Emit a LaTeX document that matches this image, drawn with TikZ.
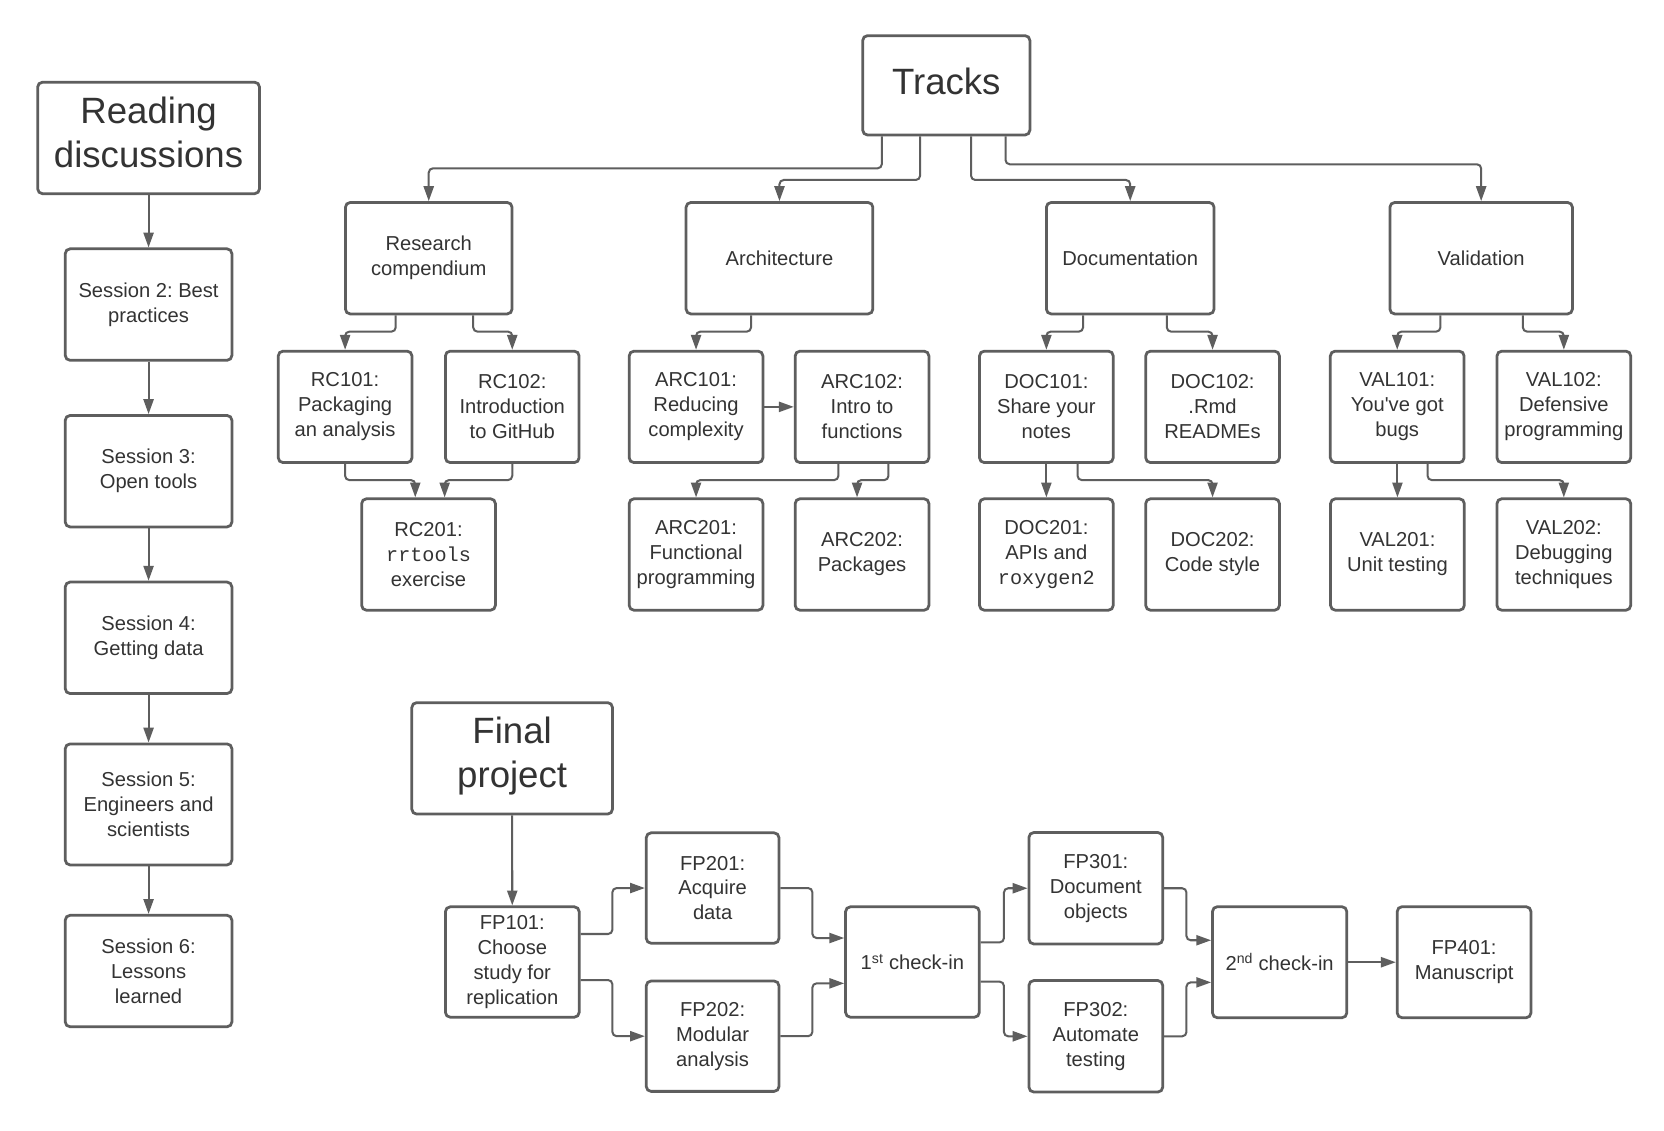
\documentclass[tikz,border=0pt]{standalone}
\usepackage{fontspec}
\setmainfont{Liberation Sans}[Ligatures=TeXOff]
\setmonofont{Liberation Mono}
\usetikzlibrary{arrows.meta}
\definecolor{lc}{HTML}{5E5E5E}
\definecolor{tc}{HTML}{333333}
\frenchspacing
\begin{document}
\begin{tikzpicture}[x=1pt,y=-1pt,
  box/.style={draw=lc, line width=2.6pt, rounded corners=4.5pt, fill=white, align=center, text=tc, inner sep=0pt, font=\fontsize{19}{23.5}\selectfont},
  bigbox/.style={box, font=\fontsize{34.5}{41.5}\selectfont},
  conn/.style={draw=lc, line width=1.9pt, rounded corners=4pt, -{Triangle[length=14pt,width=9.5pt]}},
  sz/.style 2 args={minimum width=#1pt, minimum height=#2pt}
]
\useasboundingbox (0,0) rectangle (1568,1065);
\fill[white] (0,0) rectangle (1568,1065);

% Reading discussions column
\node[bigbox, sz={209}{105}, text depth=10pt] (reading) at (140,130) {Reading\\discussions};
\node[box, sz={157}{105}] (s2) at (140,287) {Session 2: Best\\practices};
\node[box, sz={157}{105}] (s3) at (140,444) {Session 3:\\Open tools};
\node[box, sz={157}{105}] (s4) at (140,601) {Session 4:\\Getting data};
\node[box, sz={157}{114}] (s5) at (140,758) {Session 5:\\Engineers and\\scientists};
\node[box, sz={157}{105}] (s6) at (140,915) {Session 6:\\Lessons\\learned};

\draw[conn] (reading) -- (s2);
\draw[conn] (s2) -- (s3);
\draw[conn] (s3) -- (s4);
\draw[conn] (s4) -- (s5);
\draw[conn] (s5) -- (s6);

% Tracks
\node[bigbox, sz={157.5}{93.6}, text depth=8pt] (tracks) at (891.7,80.4) {Tracks};
\node[box, sz={157}{105}] (research) at (404,243.3) {Research\\compendium};
\node[box, sz={176}{105}] (arch) at (734.5,243.3) {Architecture};
\node[box, sz={158}{105}] (doc) at (1065,243.3) {Documentation};
\node[box, sz={172}{105}] (val) at (1395.7,243.3) {Validation};

\node[box, sz={126}{105}] (rc101) at (325.2,383.4) {RC101:\\Packaging\\an analysis};
\node[box, sz={126}{105}] (rc102) at (482.7,383.4) {RC102:\\Introduction\\to GitHub};
\node[box, sz={126}{105}] (arc101) at (655.9,383.4) {ARC101:\\Reducing\\complexity};
\node[box, sz={126}{105}] (arc102) at (812.3,383.4) {ARC102:\\Intro to\\functions};
\node[box, sz={126}{105}] (doc101) at (986,383.4) {DOC101:\\Share your\\notes};
\node[box, sz={126}{105}] (doc102) at (1142.6,383.4) {DOC102:\\.Rmd\\READMEs};
\node[box, sz={126}{105}] (val101) at (1316.6,383.4) {VAL101:\\You've got\\bugs};
\node[box, sz={126}{105}] (val102) at (1473.6,383.4) {VAL102:\\Defensive\\programming};

\node[box, sz={126}{105}] (rc201) at (403.8,522.5) {RC201:\\\texttt{rrtools}\\exercise};
\node[box, sz={126}{105}] (arc201) at (655.9,522.5) {ARC201:\\Functional\\programming};
\node[box, sz={126}{105}] (arc202) at (812.3,522.5) {ARC202:\\Packages};
\node[box, sz={126}{105}] (doc201) at (986,522.5) {DOC201:\\APIs and\\\texttt{roxygen2}};
\node[box, sz={126}{105}] (doc202) at (1142.6,522.5) {DOC202:\\Code style};
\node[box, sz={126}{105}] (val201) at (1316.8,522.5) {VAL201:\\Unit testing};
\node[box, sz={126}{105}] (val202) at (1473.6,522.5) {VAL202:\\Debugging\\techniques};

\draw[conn] ([xshift=-60.7pt]tracks.south) -- ++(0,30.1) -| (research.north);
\draw[conn] ([xshift=-24.7pt]tracks.south) -- ++(0,41.1) -| (arch.north);
\draw[conn] ([xshift=23.3pt]tracks.south) -- ++(0,41.1) -| (doc.north);
\draw[conn] ([xshift=55.8pt]tracks.south) -- ++(0,26.3) -| (val.north);

\draw[conn] ([xshift=-31.1pt]research.south) -- ++(0,15.4) -| (rc101.north);
\draw[conn] ([xshift=41.9pt]research.south) -- ++(0,15.4) -| (rc102.north);
\draw[conn] ([xshift=-26.8pt]arch.south) -- ++(0,15.4) -| (arc101.north);
\draw[conn] ([xshift=-44.4pt]doc.south) -- ++(0,15.4) -| (doc101.north);
\draw[conn] ([xshift=34.5pt]doc.south) -- ++(0,15.4) -| (doc102.north);
\draw[conn] ([xshift=-38.4pt]val.south) -- ++(0,15.4) -| (val101.north);
\draw[conn] ([xshift=39.3pt]val.south) -- ++(0,15.4) -| (val102.north);

\draw[conn] (rc101.south) -- ++(0,15.2) -| ([xshift=-12.5pt]rc201.north);
\draw[conn] (rc102.south) -- ++(0,15.2) -| ([xshift=15.2pt]rc201.north);
\draw[conn] (arc101.east) -- (arc102.west);
\draw[conn] ([xshift=-22.3pt]arc102.south) -- ++(0,15.2) -| (arc201.north);
\draw[conn] ([xshift=24.9pt]arc102.south) -- ++(0,15.2) -| ([xshift=-4.7pt]arc202.north);
\draw[conn] (doc101.south) -- (doc201.north);
\draw[conn] ([xshift=29.4pt]doc101.south) -- ++(0,15.2) -| (doc202.north);
\draw[conn] ([xshift=0.2pt]val101.south) -- ([xshift=0pt]val201.north);
\draw[conn] ([xshift=28.6pt]val101.south) -- ++(0,15.2) -| (val202.north);

% Final project
\node[bigbox, sz={189}{105}, text depth=12pt] (final) at (482.6,714.6) {Final\\project};
\node[box, sz={126}{104}] (fp101) at (482.75,906.5) {FP101:\\Choose\\study for\\replication};
\node[box, sz={125}{104}] (fp201) at (671.5,836.8) {FP201:\\Acquire\\data};
\node[box, sz={125}{104}] (fp202) at (671.5,976.4) {FP202:\\Modular\\analysis};
\node[box, sz={126}{104}] (check1) at (859.8,906.5) {1\textsuperscript{st} check-in};
\node[box, sz={126}{105}] (fp301) at (1032.6,837) {FP301:\\Document\\objects};
\node[box, sz={126}{105}] (fp302) at (1032.6,976.5) {FP302:\\Automate\\testing};
\node[box, sz={126.5}{104.6}] (check2) at (1205.8,906.7) {2\textsuperscript{nd} check-in};
\node[box, sz={126}{104.6}] (fp401) at (1379.6,906.7) {FP401:\\Manuscript};

\draw[conn] (final) -- (fp101);
\draw[conn] ([yshift=26.4pt]fp101.east) -- ++(30,0) |- (fp201.west);
\draw[conn] ([yshift=-17pt]fp101.east) -- ++(30,0) |- (fp202.west);
\draw[conn] (fp201.east) -- ++(30.2,0) |- ([yshift=22.6pt]check1.west);
\draw[conn] (fp202.east) -- ++(30.2,0) |- ([yshift=-20.1pt]check1.west);
\draw[conn] ([yshift=18.5pt]check1.east) -- ++(21.9,0) |- (fp301.west);
\draw[conn] ([yshift=-18.5pt]check1.east) -- ++(21.9,0) |- (fp302.west);
\draw[conn] (fp301.east) -- ++(21.1,0) |- ([yshift=20.7pt]check2.west);
\draw[conn] (fp302.east) -- ++(21.1,0) |- ([yshift=-19pt]check2.west);
\draw[conn] (check2.east) -- (fp401.west);
\end{tikzpicture}
\end{document}
